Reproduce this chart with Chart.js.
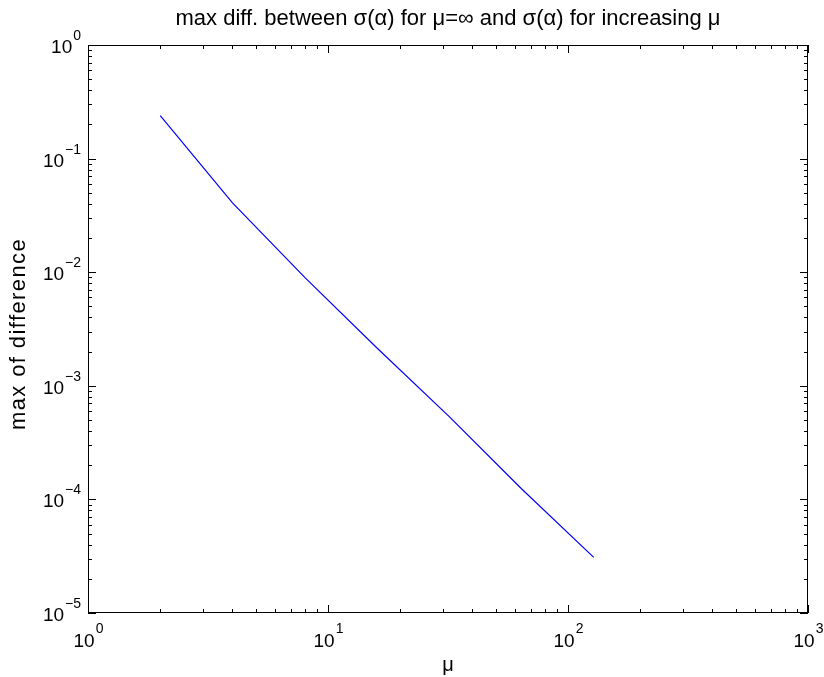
<!DOCTYPE html>
<html>
<head>
<meta charset="utf-8">
<script src="https://cdn.jsdelivr.net/npm/chart.js@4"></script>
<style>
  html, body { margin: 0; padding: 0; background: #fff; }
  #wrap { width: 824px; height: 677px; position: relative; }
</style>
</head>
<body>
<div id="wrap"><canvas id="chart"></canvas></div>
<script>
// ── data ────────────────────────────────────────────────────────────────────
const muValues   = [2, 4, 8, 16, 32, 64, 128];
const maxDiff    = [0.239, 0.0407, 0.0090, 0.00215, 5.35e-4, 1.24e-4, 3.09e-5];

const xTickValues = [1, 10, 100, 1000];
const xTickExps   = ['0', '1', '2', '3'];
const yTickValues = [1e-5, 1e-4, 1e-3, 1e-2, 1e-1, 1];
const yTickExps   = ['\u22125', '\u22124', '\u22123', '\u22122', '\u22121', '0'];

const titleText  = 'max diff. between \u03c3(\u03b1) for \u03bc=\u221e and \u03c3(\u03b1) for increasing \u03bc';
const xAxisLabel = '\u03bc';
const yAxisLabel = 'max of difference';

const FONT = '"Liberation Sans", Arial, Helvetica, sans-serif';

// minor ticks 2..9 per decade between two bounds
function minorTicks(lo, hi) {
    const out = [];
    for (let d = lo; d < hi; d *= 10) {
        for (let k = 2; k <= 9; k++) out.push(d * k);
    }
    return out;
}

// MATLAB-style box: inward major/minor ticks on all four sides, 10^n labels,
// axis labels (drawn here so the letter spacing can follow the reference)
const matlabAxes = {
    id: 'matlabAxes',
    afterDraw(chart) {
        const { ctx, chartArea: a, scales: { x, y } } = chart;
        ctx.save();
        ctx.strokeStyle = '#000';
        ctx.lineWidth = 1;
        ctx.strokeRect(a.left + 0.5, a.top + 0.5, a.right - a.left - 1, a.bottom - a.top - 1);

        const tick = (x0, y0, x1, y1) => {
            ctx.beginPath();
            ctx.moveTo(x0, y0);
            ctx.lineTo(x1, y1);
            ctx.stroke();
        };
        const xMinor = minorTicks(1, 1000);
        const yMinor = minorTicks(1e-5, 1);

        xTickValues.forEach(v => {
            const px = Math.round(x.getPixelForValue(v)) + 0.5;
            tick(px, a.bottom, px, a.bottom - 8);
            tick(px, a.top, px, a.top + 8);
        });
        xMinor.forEach(v => {
            const px = Math.round(x.getPixelForValue(v)) + 0.5;
            tick(px, a.bottom, px, a.bottom - 4);
            tick(px, a.top, px, a.top + 4);
        });
        yTickValues.forEach(v => {
            const py = Math.round(y.getPixelForValue(v)) + 0.5;
            tick(a.left, py, a.left + 8, py);
            tick(a.right, py, a.right - 8, py);
        });
        yMinor.forEach(v => {
            const py = Math.round(y.getPixelForValue(v)) + 0.5;
            tick(a.left, py, a.left + 4, py);
            tick(a.right, py, a.right - 4, py);
        });

        // tick labels: "10" with superscript exponent
        const baseFont = '19px ' + FONT;
        const supFont = '14px ' + FONT;
        ctx.fillStyle = '#000';
        ctx.textBaseline = 'alphabetic';
        ctx.textAlign = 'left';

        xTickValues.forEach((v, i) => {
            const px = x.getPixelForValue(v);
            ctx.font = baseFont;
            const w1 = ctx.measureText('10').width;
            ctx.font = supFont;
            const w2 = ctx.measureText(xTickExps[i]).width;
            const left = px - (w1 + w2) / 2;
            ctx.font = baseFont;
            ctx.fillText('10', left, a.bottom + 34);
            ctx.font = supFont;
            ctx.fillText(xTickExps[i], left + w1 + 1, a.bottom + 20);
        });

        yTickValues.forEach((v, i) => {
            const py = y.getPixelForValue(v);
            ctx.font = supFont;
            const w2 = ctx.measureText(yTickExps[i]).width;
            ctx.font = baseFont;
            const w1 = ctx.measureText('10').width;
            const right = a.left - 7;
            ctx.fillText('10', right - w2 - w1 - 1, py + 8);
            ctx.font = supFont;
            ctx.fillText(yTickExps[i], right - w2, py - 5);
        });

        // axis labels
        ctx.textAlign = 'center';
        ctx.font = '20px ' + FONT;
        ctx.fillText(xAxisLabel, (a.left + a.right) / 2, 671);

        ctx.save();
        ctx.translate(25, 334);
        ctx.rotate(-Math.PI / 2);
        ctx.font = '22px ' + FONT;
        ctx.letterSpacing = '1.4px';
        ctx.fillText(yAxisLabel, 0, 0);
        ctx.restore();

        ctx.restore();
    }
};

const ctx = document.getElementById('chart').getContext('2d');
new Chart(ctx, {
    type: 'line',
    data: {
        datasets: [{
            label: 'max diff',
            data: muValues.map((m, i) => ({ x: m, y: maxDiff[i] })),
            borderColor: '#0000ff',
            backgroundColor: 'transparent',
            borderWidth: 1.2,
            pointRadius: 0,
            tension: 0
        }]
    },
    options: {
        animation: false,
        responsive: true,
        maintainAspectRatio: false,
        // the plot box sits at x 88..808, y 45..613
        layout: { padding: { left: 88, right: 16, top: 0, bottom: 64 } },
        plugins: {
            legend: { display: false },
            tooltip: { enabled: false },
            title: {
                display: true,
                text: titleText,
                color: '#000',
                font: { family: FONT, size: 22, weight: 'normal', lineHeight: 1.2 },
                padding: { top: 5.3, bottom: 13.3 }
            }
        },
        scales: {
            x: { type: 'logarithmic', min: 1, max: 1000, display: false },
            y: { type: 'logarithmic', min: 1e-5, max: 1, display: false }
        }
    },
    plugins: [matlabAxes]
});
</script>
</body>
</html>
